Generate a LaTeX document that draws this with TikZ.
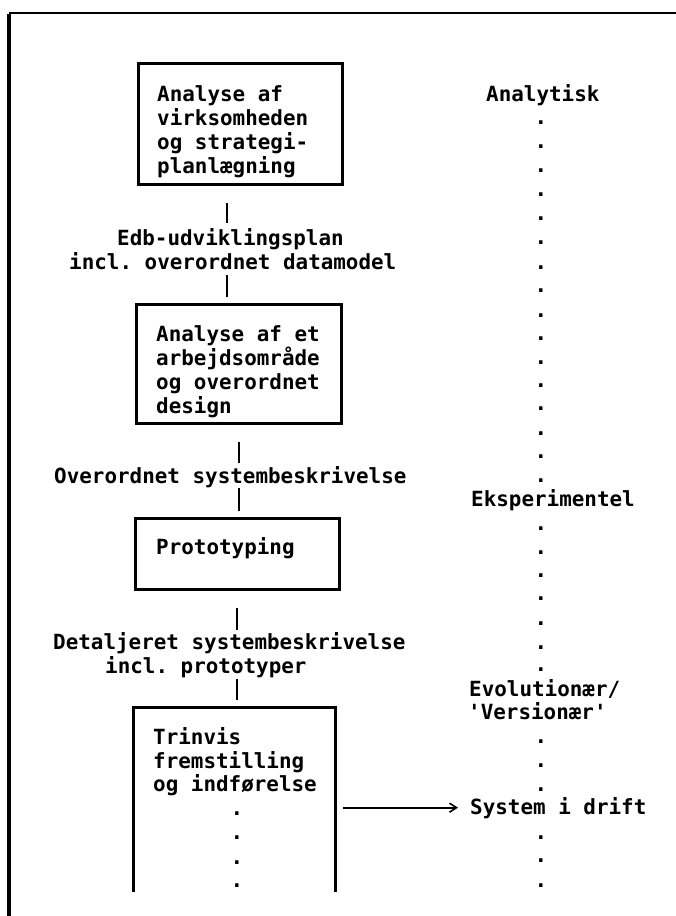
\documentclass[tikz,border=0pt]{standalone}
\usepackage{fontspec}
\setmonofont{DejaVu Sans Mono}
\usetikzlibrary{arrows.meta}
\begin{document}
\begin{tikzpicture}[x=1pt,y=-1pt,
  tw/.style={font=\ttfamily\bfseries\fontsize{20.9}{24}\selectfont, inner sep=0pt, anchor=base west},
  dotx/.style={tw, anchor=base},
  boxx/.style={draw, line width=3pt, inner sep=0pt, anchor=north west},
  openbox/.style={inner sep=0pt, anchor=north west},
  conn/.style={line width=2.8pt},
  arr/.style={line width=1.8pt, -{Straight Barb[length=7pt,width=9pt,line width=1.6pt]}},
  frameleft/.style={line width=4pt},
  frametop/.style={line width=2.4pt}]
\useasboundingbox (0,0) rectangle (676,916);
% frame
\coordinate (fbl) at (9,916);
\coordinate (ftl) at (9,13);
\coordinate (ftr) at (676,13);
\draw[frameleft] (fbl) -- ([yshift=-1pt]ftl);
\draw[frametop] (ftl) -- (ftr);
% boxes
\node[boxx, minimum width=204pt, minimum height=121pt] (b1) at (137,62) {};
\node[boxx, minimum width=205pt, minimum height=119pt] (b2) at (135,303) {};
\node[boxx, minimum width=204pt, minimum height=71pt] (b3) at (134,517) {};
\node[openbox, minimum width=202pt, minimum height=185pt] (b4) at (133,707) {};
\draw[line width=3pt] (b4.south west) -- (b4.north west) -- (b4.north east) -- (b4.south east);
% box texts
\node[tw] (t1a) at (157,101) {Analyse af};
\node[tw] (t1b) at (157,125) {virksomheden};
\node[tw] (t1c) at (157,149) {og strategi-};
\node[tw] (t1d) at (157,173) {planlægning};
\node[tw] (t2a) at (156,341) {Analyse af et};
\node[tw] (t2b) at (156,365) {arbejdsområde};
\node[tw] (t2c) at (156,389) {og overordnet};
\node[tw] (t2d) at (156,413) {design};
\node[tw] (t3a) at (156,554) {Prototyping};
\node[tw] (t4a) at (153,744) {Trinvis};
\node[tw] (t4b) at (153,768) {fremstilling};
\node[tw] (t4c) at (153,791) {og indførelse};
\foreach \y [count=\i] in {815,839,864,887}
  \node[dotx] (bd\i) at (237,\y) {.};
% labels between boxes
\node[tw] (edb) at (117,245) {Edb-udviklingsplan};
\node[tw] (incl) at (69,269) {incl. overordnet datamodel};
\node[tw] (over) at (54,483) {Overordnet systembeskrivelse};
\node[tw] (det) at (53,649) {Detaljeret systembeskrivelse};
\node[tw] (inclp) at (105,673) {incl. prototyper};
% connectors
\coordinate (c1a) at (227,203); \coordinate (c1b) at (227,223);
\coordinate (c2a) at (227,275); \coordinate (c2b) at (227,297);
\coordinate (c3a) at (239,442); \coordinate (c3b) at (239,463);
\coordinate (c4a) at (239,488); \coordinate (c4b) at (239,511);
\coordinate (c5a) at (237,608); \coordinate (c5b) at (237,630);
\coordinate (c6a) at (237,679); \coordinate (c6b) at (237,700);
\draw[conn] (c1a) -- (c1b);
\draw[conn] (c2a) -- (c2b);
\draw[conn] (c3a) -- (c3b);
\draw[conn] (c4a) -- (c4b);
\draw[conn] (c5a) -- (c5b);
\draw[conn] (c6a) -- (c6b);
% right column
\node[tw] (ana) at (486,101) {Analytisk};
\node[tw] (eks) at (471,506) {Eksperimentel};
\node[tw] (evo) at (469,696) {Evolutionær/};
\node[tw] (ver) at (468,719) {'Versionær'};
\node[tw] (sys) at (470,814) {System i drift};
\foreach \y [count=\i] in {122,146,170,194,218,242,267,290,315,338,362,385,408,433,456,480,528,552,575,598,623,647,669,741,765,789,837,860,885}
  \node[dotx] (rd\i) at (541,{\y+2}) {.};
% arrow
\draw[arr, shorten >=12pt] ([xshift=8pt]b4.east |- sys.west) -- (sys.west);
\end{tikzpicture}
\end{document}
